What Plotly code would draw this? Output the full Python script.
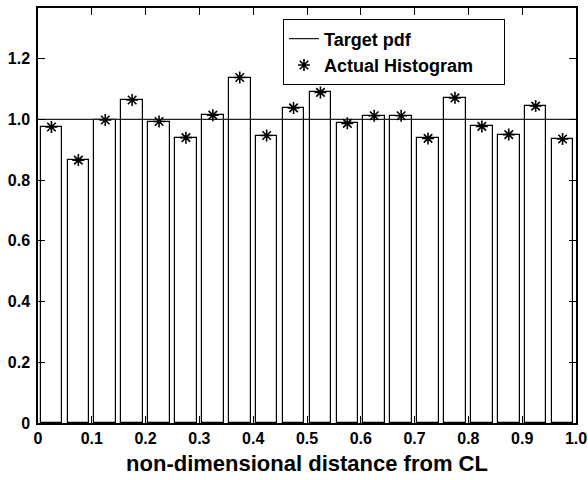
import plotly.graph_objects as go

# Histogram bins: centres of 20 equal bins on [0, 1]
bin_centers = [0.025, 0.075, 0.125, 0.175, 0.225, 0.275, 0.325, 0.375, 0.425, 0.475,
               0.525, 0.575, 0.625, 0.675, 0.725, 0.775, 0.825, 0.875, 0.925, 0.975]
# Normalised histogram heights
hist_values = [0.975, 0.866, 0.998, 1.064, 0.993, 0.940, 1.014, 1.138, 0.947, 1.038,
               1.089, 0.987, 1.012, 1.012, 0.9375, 1.071, 0.977, 0.950, 1.044, 0.9355]
# Uniform target pdf
target_x = [0.0, 1.0]
target_y = [1.0, 1.0]

x_ticks = [0, 0.1, 0.2, 0.3, 0.4, 0.5, 0.6, 0.7, 0.8, 0.9, 1.0]
x_tick_text = ["0", "0.1", "0.2", "0.3", "0.4", "0.5", "0.6", "0.7", "0.8", "0.9", "1.0"]
y_ticks = [0, 0.2, 0.4, 0.6, 0.8, 1.0, 1.2]
y_tick_text = ["0", "0.2", "0.4", "0.6", "0.8", "1.0", "1.2"]

FONT = "Liberation Sans, Arial, sans-serif"
PAD = "\u00a0" * 5  # trailing space inside the legend box

fig = go.Figure()

fig.add_trace(go.Bar(
    x=bin_centers, y=hist_values, width=0.04,
    marker=dict(color="white", line=dict(color="black", width=1.2)),
    showlegend=False, hoverinfo="skip",
))

fig.add_trace(go.Scatter(
    x=target_x, y=target_y, mode="lines", name="Target pdf",
    line=dict(color="#222222", width=1.2),
))

fig.add_trace(go.Scatter(
    x=bin_centers, y=hist_values, mode="markers", name="Actual Histogram" + PAD,
    marker=dict(symbol="asterisk-open", size=10, color="black",
                line=dict(color="black", width=1.6)),
))

axis_common = dict(
    showgrid=False, zeroline=False, showline=True, linecolor="black",
    linewidth=1.5, mirror="ticks", ticks="inside", ticklen=7,
    tickcolor="black", tickwidth=1, automargin=False,
    tickfont=dict(family=FONT, size=16, color="black", weight="bold"),
)

fig.update_layout(
    width=588, height=480,
    margin=dict(l=38, r=12, t=8, b=57),
    paper_bgcolor="white", plot_bgcolor="white",
    bargap=0,
    font=dict(family=FONT, color="black"),
    xaxis=dict(
        range=[0, 1], tickvals=x_ticks, ticktext=x_tick_text,
        title=dict(text="non-dimensional distance from CL", standoff=10,
                   font=dict(family=FONT, size=22, color="black", weight="bold")),
        **axis_common,
    ),
    yaxis=dict(
        range=[0, 1.367], tickvals=y_ticks, ticktext=y_tick_text,
        ticklabelstandoff=3,
        **axis_common,
    ),
    legend=dict(
        x=0.455, y=0.973, xanchor="left", yanchor="top",
        bgcolor="white", bordercolor="black", borderwidth=1.2,
        font=dict(family=FONT, size=18, color="black", weight="bold"),
        itemwidth=30,
    ),
)

fig.write_html("out.html")
